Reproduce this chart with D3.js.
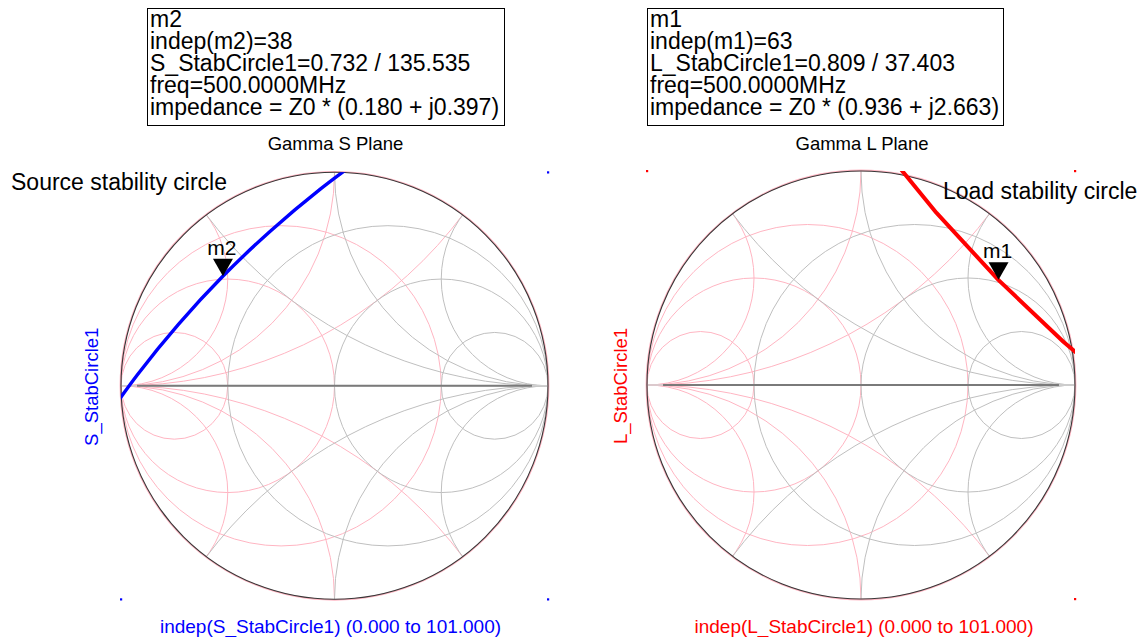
<!DOCTYPE html>
<html>
<head>
<meta charset="utf-8">
<script src="https://cdn.jsdelivr.net/npm/d3@7"></script>
<style>
  html, body { margin: 0; padding: 0; background: #ffffff; }
  svg { display: block; font-family: "Liberation Sans", Arial, sans-serif; }
</style>
</head>
<body>
<svg id="chart" width="1144" height="637"></svg>
<script>
// ---- Smith chart grid values (normalized to Z0) ----
const resistanceCircles = [1 / 3, 1, 3];
const reactanceArcs = [0.5, 1, 2, -0.5, -1, -2];
const conductanceCircles = [1 / 3, 1, 3];
const susceptanceArcs = [0.5, 1, 2, -0.5, -1, -2];

// ---- Source stability circle samples (sweep index, reflection coefficient) ----
const sStabIndex = [35, 36, 37, 38, 39, 40, 41];
const sStabRe = [0.177, -0.068, -0.301, -0.522, -0.730, -0.924, -1.100];
const sStabIm = [1.102, 0.920, 0.724, 0.514, 0.289, 0.051, -0.195];

// ---- Load stability circle samples ----
const lStabIndex = [61, 62, 63, 64, 65];
const lStabRe = [0.086, 0.353, 0.643, 0.947, 1.271];
const lStabIm = [1.131, 0.804, 0.490, 0.201, -0.072];

// ---- Markers (magnitude / angle in degrees) ----
const markerNames = ["m2", "m1"];
const markerIndex = [38, 63];
const markerMag = [0.732, 0.809];
const markerAngle = [135.535, 37.403];
const markerTrace = ["S_StabCircle1", "L_StabCircle1"];
const markerFreq = ["500.0000MHz", "500.0000MHz"];
const markerImpedance = ["(0.180 + j0.397)", "(0.936 + j2.663)"];

// corners of the plot window where the data-range dots appear
const sCornerDots = [[1, 1], [-1, -1], [1, -1]];
const lCornerDots = [[-1, 1], [1, 1], [1, -1]];

const svg = d3.select("#chart");

const GRAY = "#bfbfbf";
const PINK = "#ffb5c2";

function drawPanel(cfg) {
  const g = svg.append("g");
  const x = d3.scaleLinear().domain([-1, 1]).range([cfg.cx - cfg.R, cfg.cx + cfg.R]);
  const y = d3.scaleLinear().domain([-1, 1]).range([cfg.cy + cfg.R, cfg.cy - cfg.R]);
  const k = x(1) - x(0);

  const defs = svg.append("defs");
  defs.append("clipPath").attr("id", cfg.id + "-unit")
    .append("circle").attr("cx", x(0)).attr("cy", y(0)).attr("r", k);
  defs.append("clipPath").attr("id", cfg.id + "-win")
    .append("rect").attr("x", x(-1)).attr("y", y(1))
    .attr("width", x(1) - x(-1)).attr("height", y(-1) - y(1));

  const grid = g.append("g").attr("clip-path", `url(#${cfg.id}-unit)`)
    .attr("fill", "none").attr("stroke-width", 1);

  // admittance grid
  grid.selectAll("circle.g").data(conductanceCircles).join("circle")
    .attr("class", "g")
    .attr("cx", d => x(-d / (1 + d))).attr("cy", y(0))
    .attr("r", d => k / (1 + d)).attr("stroke", PINK);
  grid.selectAll("circle.b").data(susceptanceArcs).join("circle")
    .attr("class", "b")
    .attr("cx", x(-1)).attr("cy", d => y(1 / d))
    .attr("r", d => k / Math.abs(d)).attr("stroke", PINK);

  // impedance grid
  grid.selectAll("circle.r").data(resistanceCircles).join("circle")
    .attr("class", "r")
    .attr("cx", d => x(d / (1 + d))).attr("cy", y(0))
    .attr("r", d => k / (1 + d)).attr("stroke", GRAY);
  grid.selectAll("circle.x").data(reactanceArcs).join("circle")
    .attr("class", "x")
    .attr("cx", x(1)).attr("cy", d => y(1 / d))
    .attr("r", d => k / Math.abs(d)).attr("stroke", GRAY);

  // real axis
  g.append("line").attr("x1", x(-1)).attr("x2", x(1)).attr("y1", y(0)).attr("y2", y(0))
    .attr("stroke", "#d0d0d0").attr("stroke-width", 1.5);
  g.append("line").attr("x1", x(-0.925)).attr("x2", x(0.925)).attr("y1", y(0)).attr("y2", y(0))
    .attr("stroke", "#7a7a7a").attr("stroke-width", 2);

  // outer |Gamma| = 1 circle
  g.append("circle").attr("cx", x(0)).attr("cy", y(0)).attr("r", k + 0.6)
    .attr("fill", "none").attr("stroke", PINK).attr("stroke-width", 1.6);
  g.append("circle").attr("cx", x(0)).attr("cy", y(0)).attr("r", k)
    .attr("fill", "none").attr("stroke", "#383838").attr("stroke-width", 1.1);

  // stability circle trace
  const pts = cfg.index.map((d, i) => ({ idx: d, re: cfg.re[i], im: cfg.im[i] }));
  const line = d3.line().x(d => x(d.re)).y(d => y(d.im)).curve(cfg.curve);
  g.append("path").datum(pts)
    .attr("clip-path", `url(#${cfg.id}-win)`)
    .attr("d", line).attr("fill", "none")
    .attr("stroke", cfg.color).attr("stroke-width", cfg.width)
    .attr("stroke-linejoin", "round");

  // marker
  const a = cfg.mAngle * Math.PI / 180;
  const mx = x(cfg.mMag * Math.cos(a)), my = y(cfg.mMag * Math.sin(a));
  g.append("path")
    .attr("d", `M${mx},${my} L${mx - 10},${my - 17.5} L${mx + 10},${my - 17.5} Z`)
    .attr("fill", "#000");
  g.append("text").attr("x", mx - 1).attr("y", my - 21.5)
    .attr("text-anchor", "middle").attr("font-size", 21).attr("fill", "#000")
    .text(cfg.mName);

  // data-range dots
  g.selectAll("rect.dot").data(cfg.dots).join("rect")
    .attr("class", "dot")
    .attr("x", d => x(d[0]) - 1).attr("y", d => y(d[1]) - 1)
    .attr("width", 2.2).attr("height", 2.2).attr("fill", cfg.color);

  // title
  g.append("text").attr("x", cfg.cx + 1).attr("y", 150)
    .attr("text-anchor", "middle").attr("font-size", 18.5).attr("fill", "#000")
    .text(cfg.title);

  // axis labels
  g.append("text").attr("x", cfg.xLabelX).attr("y", 632.5)
    .attr("text-anchor", "middle").attr("font-size", 19).attr("fill", cfg.color)
    .text(`indep(${cfg.trace}) (0.000 to 101.000)`);
  g.append("text")
    .attr("transform", `translate(${cfg.yLabelX},${cfg.cy + 1}) rotate(-90)`)
    .attr("text-anchor", "middle").attr("font-size", 18.5).attr("fill", cfg.color)
    .text(cfg.trace);

  // marker readout box
  const box = g.append("g");
  box.append("rect").attr("x", cfg.boxX + 0.5).attr("y", 8.5)
    .attr("width", cfg.boxW).attr("height", 117)
    .attr("fill", "#fff").attr("stroke", "#000").attr("stroke-width", 1);
  const lines = [
    cfg.mName,
    `indep(${cfg.mName})=${cfg.mIndex}`,
    `${cfg.trace}=${cfg.mMag.toFixed(3)} / ${cfg.mAngle.toFixed(3)}`,
    `freq=${cfg.freq}`,
    `impedance = Z0 * ${cfg.imp}`
  ];
  box.selectAll("text").data(lines).join("text")
    .attr("x", cfg.boxX + 3).attr("y", (d, i) => 26.7 + i * 22.1)
    .attr("font-size", 23).attr("fill", "#000").text(d => d);
}

drawPanel({
  id: "gs", cx: 334.5, cy: 385.8, R: 213.5, color: "#0000ff", width: 3.4, curve: d3.curveCatmullRom,
  index: sStabIndex, re: sStabRe, im: sStabIm, dots: sCornerDots,
  mName: markerNames[0], mIndex: markerIndex[0], mMag: markerMag[0], mAngle: markerAngle[0],
  trace: markerTrace[0], freq: markerFreq[0], imp: markerImpedance[0],
  title: "Gamma S Plane", xLabelX: 330.5, yLabelX: 97.5, boxX: 147, boxW: 357
});

drawPanel({
  id: "gl", cx: 861, cy: 385, R: 214, color: "#ff0000", width: 4, curve: d3.curveLinear,
  index: lStabIndex, re: lStabRe, im: lStabIm, dots: lCornerDots,
  mName: markerNames[1], mIndex: markerIndex[1], mMag: markerMag[1], mAngle: markerAngle[1],
  trace: markerTrace[1], freq: markerFreq[1], imp: markerImpedance[1],
  title: "Gamma L Plane", xLabelX: 864, yLabelX: 627, boxX: 647, boxW: 356
});

// trace annotations
svg.append("text").attr("x", 11).attr("y", 189.5)
  .attr("font-size", 23).attr("fill", "#000").text("Source stability circle");
svg.append("text").attr("x", 943).attr("y", 198.5)
  .attr("font-size", 23).attr("fill", "#000").text("Load stability circle");
</script>
</body>
</html>
